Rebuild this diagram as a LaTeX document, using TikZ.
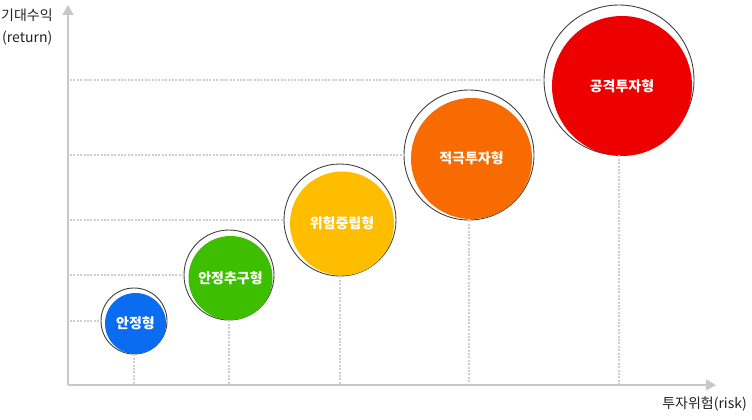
\documentclass[tikz,border=0pt]{standalone}
\usepackage{fontspec}
\setmainfont{Noto Sans CJK KR}
\usepackage{xcolor}
\usetikzlibrary{arrows.meta,positioning}
\definecolor{axisgray}{HTML}{C8C8C8}
\definecolor{guidegray}{HTML}{CFCFCF}
\definecolor{ringgray}{HTML}{404040}
\definecolor{labelgray}{HTML}{222222}
\definecolor{cStable}{HTML}{0A6CF0}
\definecolor{cSeek}{HTML}{3DBF00}
\definecolor{cNeutral}{HTML}{FFBD00}
\definecolor{cActive}{HTML}{F86B00}
\definecolor{cAggr}{HTML}{EC0000}

\begin{document}
\begin{tikzpicture}[x=1pt, y=-1pt,
  ring/.style={circle, draw=ringgray, line width=0.9pt, fill=white, inner sep=0pt},
  disc/.style={circle, inner sep=0pt, text=white, font=\fontsize{14}{16}\selectfont\bfseries},
  axis/.style={draw=axisgray, line width=1.4pt, -{Triangle[length=10pt,width=11pt]}},
  guide/.style={draw=guidegray, line width=1.6pt, dash pattern=on 2pt off 1.4pt},
  lbl/.style={font=\fontsize{14}{16}\selectfont, text=labelgray, inner sep=0pt},
]
\useasboundingbox (0,0) rectangle (752,420);
% === Axes ===
\coordinate (origin) at (68,385);
\coordinate (ytip) at (68,5);
\coordinate (xtip) at (716,385);
\draw[axis] (origin) -- (ytip);
\draw[axis] (origin) -- (xtip);
\node[lbl, anchor=west] (ylbl) at (1,15) {기대수익};
\node[lbl, anchor=west] (yunit) at (2,38) {(return)};
\node[lbl, anchor=east] (xlbl) at (747,404) {투자위험(risk)};
% === Rings ===
\node[ring, minimum size=66pt] (ringStable) at (134,321) {};
\node[ring, minimum size=90pt] (ringSeek) at (229,275) {};
\node[ring, minimum size=112pt] (ringNeutral) at (340,220) {};
\node[ring, minimum size=130pt] (ringActive) at (469,155) {};
\node[ring, minimum size=150pt] (ringAggr) at (619,80) {};
% === Discs ===
\node[disc, fill=cStable, minimum size=61pt] (stable) at (135.5,323.5) {안정형};
\node[disc, fill=cSeek, minimum size=84pt] (seek) at (230.5,278) {안정추구형};
\node[disc, fill=cNeutral, minimum size=104pt] (neutral) at (342,223.5) {위험중립형};
\node[disc, fill=cActive, minimum size=121pt] (active) at (471.5,158.5) {적극투자형};
\node[disc, fill=cAggr, minimum size=140pt] (aggr) at (622,86) {공격투자형};
% === Guides ===
\coordinate (yStable) at (70,321);
\coordinate (ySeek) at (70,275);
\coordinate (yNeutral) at (70,220);
\coordinate (yActive) at (70,155);
\coordinate (yAggr) at (70,80);
\draw[guide] (yStable) -- (ringStable.west);
\draw[guide] (ySeek) -- (ringSeek.west);
\draw[guide] (yNeutral) -- (ringNeutral.west);
\draw[guide] (yActive) -- (ringActive.west);
\draw[guide] (yAggr) -- (ringAggr.west);
\draw[guide] (ringStable.south) -- (ringStable.south |- origin);
\draw[guide] (ringSeek.south) -- (ringSeek.south |- origin);
\draw[guide] (ringNeutral.south) -- (ringNeutral.south |- origin);
\draw[guide] (ringActive.south) -- (ringActive.south |- origin);
\draw[guide] (ringAggr.south) -- (ringAggr.south |- origin);
\end{tikzpicture}
\end{document}
